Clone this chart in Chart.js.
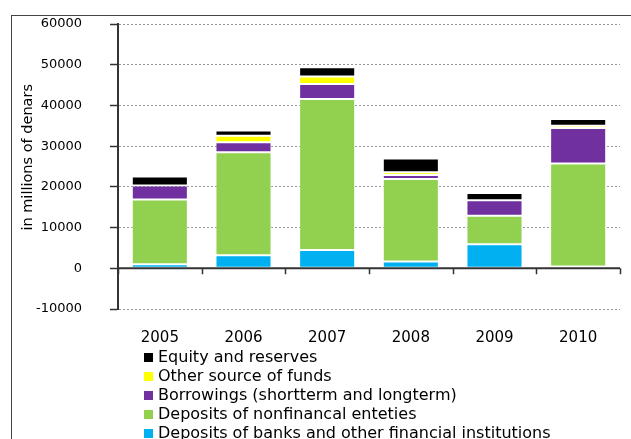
<!DOCTYPE html>
<html>
<head>
<meta charset="utf-8">
<script src="https://cdn.jsdelivr.net/npm/chart.js@4.4.1/dist/chart.umd.min.js"></script>
<style>
  body { margin: 0; background: #fff; overflow: hidden; }
  #wrap { position: relative; width: 631px; height: 439px; }
  #frame { position: absolute; left: 11px; top: 15px; width: 700px; height: 500px; border: 1px solid #444; box-sizing: border-box; }
  #c { position: absolute; left: 0; top: 0; }
  #legend { position: absolute; left: 144px; top: 347px; font-family: "DejaVu Sans", Verdana, sans-serif; font-size: 16px; color: #000; }
  #legend div { height: 19px; line-height: 19px; white-space: nowrap; }
  #legend span { display: inline-block; width: 9px; height: 9px; margin-right: 5px; vertical-align: 0px; }
</style>
</head>
<body>
<div id="wrap">
  <div id="frame"></div>
  <canvas id="c" width="631" height="439"></canvas>
  <div id="legend"></div>
</div>
<script>
const years = ['2005', '2006', '2007', '2008', '2009', '2010'];
const depBanks = [1000, 3200, 4520, 1640, 5920, 410];      // Deposits of banks and other financial institutions
const depNonfin = [15900, 25300, 37060, 20300, 6980, 25310]; // Deposits of nonfinancal enteties
const borrowings = [3450, 2470, 3700, 985, 3780, 8710];   // Borrowings
const otherFunds = [-150, 1560, 1800, 655, -400, 575];     // Other source of funds
const equity = [2220, 1310, 2300, 3370, 1810, 1650];       // Equity and reserves
const yTicks = [-10000, 0, 10000, 20000, 30000, 40000, 50000, 60000];

const font = "DejaVu Sans";

// zero line and category tick marks on it
const zeroAxis = {
    id: 'zeroAxis',
    afterDatasetsDraw(chart) {
        const { ctx, chartArea, scales: { x, y } } = chart;
        const y0 = y.getPixelForValue(0);
        ctx.save();
        ctx.strokeStyle = '#333';
        ctx.lineWidth = 2;
        ctx.beginPath();
        ctx.moveTo(chartArea.left, y0);
        ctx.lineTo(chartArea.right, y0);
        ctx.stroke();
        const half = (x.getPixelForValue(1) - x.getPixelForValue(0)) / 2;
        ctx.lineWidth = 1.5;
        ctx.beginPath();
        for (let i = 0; i <= years.length; i++) {
            const px = i < years.length ? x.getPixelForValue(i) - half : x.getPixelForValue(years.length - 1) + half;
            ctx.moveTo(Math.round(px) + 0.5, y0);
            ctx.lineTo(Math.round(px) + 0.5, y0 + 6);
        }
        ctx.stroke();
        ctx.restore();
    }
};

const edge = 'rgba(255,255,255,0.45)';
const mk = (label, data, color) => ({
    label, data, backgroundColor: color, borderColor: edge, borderWidth: 1, borderSkipped: false,
    categoryPercentage: 1, barPercentage: 0.67
});

const chart = new Chart(document.getElementById('c'), {
    type: 'bar',
    data: {
        labels: years,
        datasets: [
            mk('Deposits of banks and other financial institutions', depBanks, '#00B0F0'),
            mk('Deposits of nonfinancal  enteties', depNonfin, '#92D050'),
            mk('Borrowings (shortterm and longterm)', borrowings, '#7030A0'),
            mk('Other source of funds', otherFunds, '#FFFF00'),
            mk('Equity and reserves', equity, '#000000')
        ]
    },
    options: {
        responsive: false,
        animation: false,
        layout: { padding: { left: 0, top: 24, right: 11, bottom: 90 } },
        plugins: { legend: { display: false }, tooltip: { enabled: false } },
        scales: {
            x: {
                stacked: true,
                grid: { display: false },
                border: { display: false },
                ticks: { color: '#000', font: { family: font, size: 15 }, padding: 12 },
                afterFit: s => { s.height = 40; }
            },
            y: {
                stacked: true,
                min: yTicks[0],
                max: yTicks[yTicks.length - 1],
                afterBuildTicks: s => { s.ticks = yTicks.map(v => ({ value: v })); },
                ticks: { color: '#000', font: { family: font, size: 13 }, padding: 28, callback: v => String(v) },
                grid: { color: '#999', tickColor: '#333', tickLength: 8, tickWidth: 1.5, tickBorderDash: [] },
                border: { color: '#333', width: 2, dash: [2, 2] },
                title: { display: true, text: '    in millions of denars', color: '#000', font: { family: font, size: 14.5 }, padding: { top: 20, bottom: 0 } },
                afterFit: s => { s.width = 118; s.paddingTop = 0; s.paddingBottom = 0; }
            }
        }
    },
    plugins: [zeroAxis]
});

// legend, top of stack first
const leg = document.getElementById('legend');
chart.data.datasets.slice().reverse().forEach(ds => {
    const row = document.createElement('div');
    const sw = document.createElement('span');
    sw.style.background = ds.backgroundColor;
    row.appendChild(sw);
    row.appendChild(document.createTextNode(ds.label));
    leg.appendChild(row);
});
</script>
</body>
</html>
